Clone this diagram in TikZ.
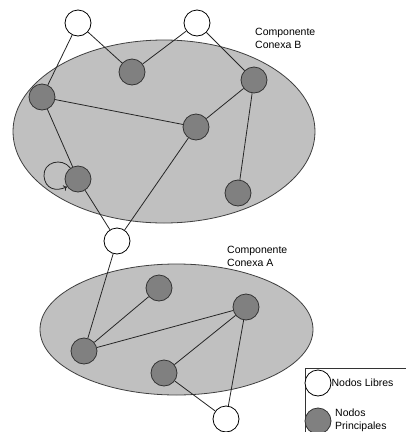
\documentclass[tikz,border=0pt]{standalone}
\usepackage{fontspec}
\setmainfont{Liberation Sans}
\usetikzlibrary{arrows.meta}
\definecolor{zone}{RGB}{192,192,192}
\definecolor{core}{RGB}{128,128,128}
\begin{document}
\begin{tikzpicture}[x=1pt,y=-1pt,
  free/.style={circle,draw=black,fill=white,line width=0.8pt,minimum size=26pt,inner sep=0pt},
  main/.style={circle,draw=black!80,fill=core,line width=0.8pt,minimum size=26pt,inner sep=0pt},
  zonefill/.style={draw=black!75,fill=zone,line width=0.8pt},
  link/.style={draw=black!85,line width=0.8pt},
  caption/.style={font=\fontsize{10.5}{13}\selectfont,align=left,inner sep=0pt,anchor=north west}]
\useasboundingbox (0,0) rectangle (406,432);
\clip (0,0) rectangle (406,432);
\fill[white] (0,0) rectangle (406,432);

% connected components
\draw[zonefill] (164,131.5) ellipse [x radius=151, y radius=91.5];
\draw[zonefill] (176.5,329.5) ellipse [x radius=136.5, y radius=65.5];

% component B
\node[free] (F1) at (78,23) {};
\node[free] (F2) at (197,23) {};
\node[main] (B1) at (132,72) {};
\node[main] (B2) at (254,80) {};
\node[main] (B3) at (42,97) {};
\node[main] (B4) at (196,127) {};
\node[main] (B5) at (78,179) {};
\node[main] (B6) at (238,193) {};

% shared free node
\node[free] (F3) at (117,241) {};

% component A
\node[main] (A1) at (159,288) {};
\node[main] (A2) at (246,307) {};
\node[main] (A3) at (84,351) {};
\node[main] (A4) at (164,373) {};
\node[free] (F4) at (226,419) {};

% edges
\draw[link] (F1) -- (B3);
\draw[link] (F1) -- (B1);
\draw[link] (F2) -- (B1);
\draw[link] (F2) -- (B2);
\draw[link] (B3) -- (B4);
\draw[link] (B4) -- (B2);
\draw[link] (B2) -- (B6);
\draw[link] (B3) -- (B5);
\draw[link] (B5) -- (F3);
\draw[link] (B4) -- (F3);
\draw[link] (F3) -- (A3);
\draw[link] (A3) -- (A1);
\draw[link] (A3) -- (A2);
\draw[link] (A2) -- (A4);
\draw[link] (A4) -- (F4);
\draw[link] (A2) -- (F4);

% self loop on a main node
\draw[link,-{To[length=3.5pt,width=6pt]}] (B5.125) .. controls (62,157) and (43,162) .. (44,176)
  .. controls (45,189) and (56,192) .. (B5.215);

% captions
\node[caption] (capB) at (255,28) {Componente\\Conexa B};
\node[caption] (capA) at (227,246) {Componente\\Conexa A};

% legend
\draw[black!80,line width=0.8pt,fill=white] (305.5,368.5) rectangle (412,440);
\node[free] (Lf) at (318,383) {};
\node[main] (Lm) at (318,421) {};
\node[caption,anchor=west] (Lft) at (Lf.east) {Nodos Libres};
\node[caption,anchor=north west] (Lmt) at (335,409) {Nodos\\Principales};
\end{tikzpicture}
\end{document}
